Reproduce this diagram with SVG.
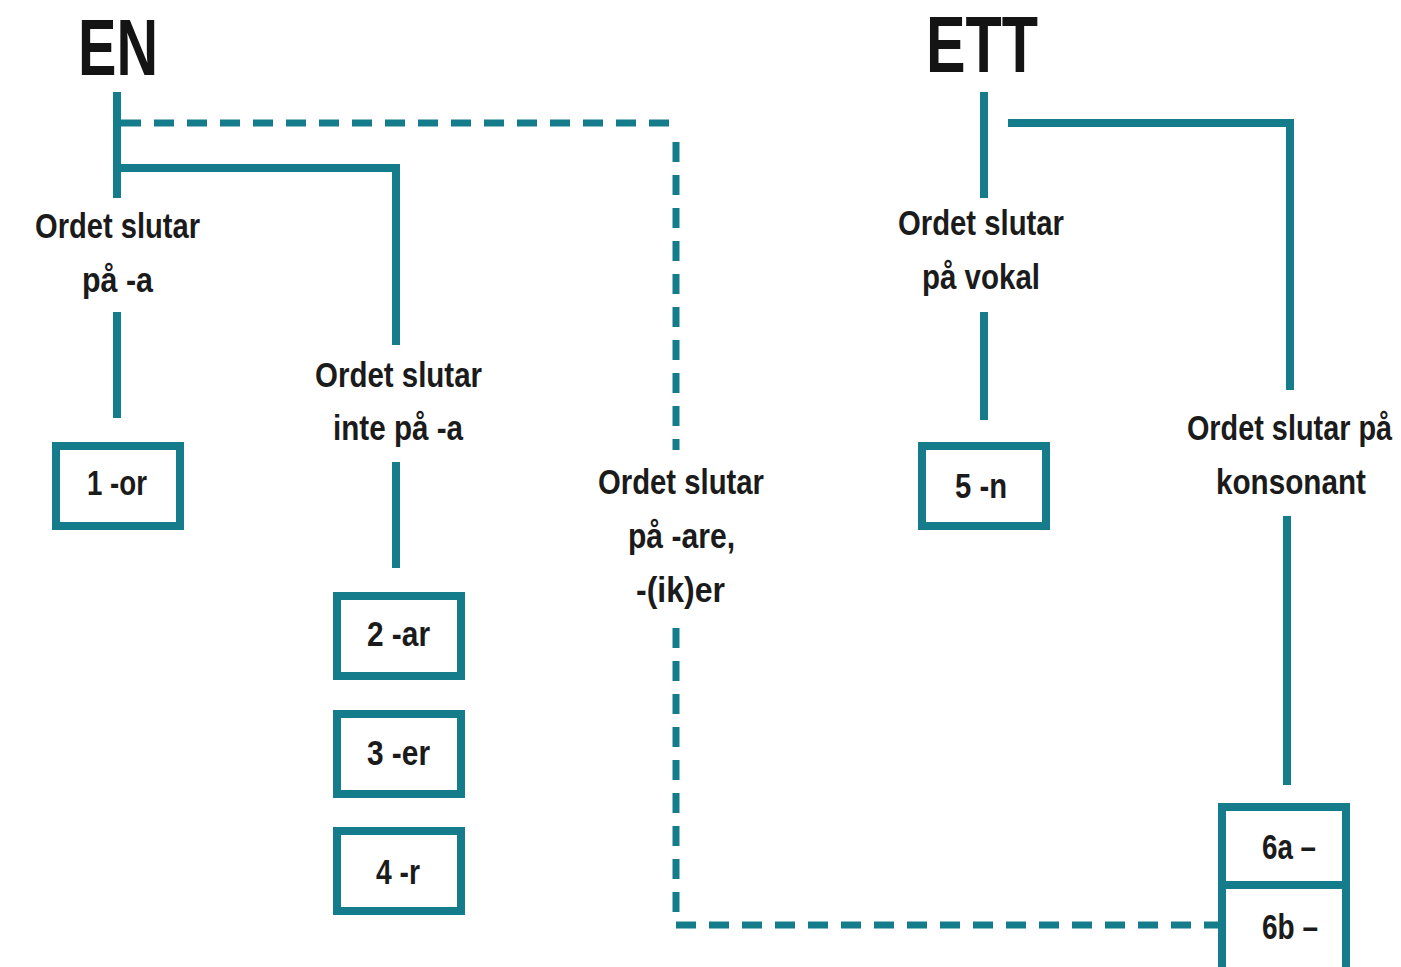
<svg xmlns="http://www.w3.org/2000/svg" width="1401" height="967" viewBox="0 0 1401 967">
<style>
.t{font-family:"Liberation Sans",Arial,sans-serif;font-weight:bold;font-size:35px;fill:#1b1b1b}
.h{font-family:"Liberation Sans",Arial,sans-serif;font-weight:bold;font-size:80px;fill:#141414}
.s{fill:none;stroke:#157c8c;stroke-width:8}
.d{fill:none;stroke:#157c8c;stroke-width:7;stroke-dasharray:20 13}
.b{fill:#fff;stroke:#157c8c;stroke-width:8}
</style>
<rect width="1401" height="967" fill="#fff"/>
<g id="connectors">
<path class="s" d="M117 92V198"/>
<path class="s" d="M117 168H396V345"/>
<path class="d" d="M121 123H680"/>
<path class="d" d="M676 142V450"/>
<path class="d" d="M676 628V925H1220"/>
<path class="s" d="M117 312V418"/>
<path class="s" d="M396 462V568"/>
<path class="s" d="M984 92V198"/>
<path class="s" d="M1008 123H1290V390"/>
<path class="s" d="M984 312V420"/>
<path class="s" d="M1287 516V785"/>
</g>
<g id="en"><text class="h" x="78" y="75" textLength="80" lengthAdjust="spacingAndGlyphs">EN</text></g>
<g id="ett"><text class="h" x="926" y="72" textLength="112" lengthAdjust="spacingAndGlyphs">ETT</text></g>
<g id="q1">
<text class="t" x="35" y="238" textLength="165" lengthAdjust="spacingAndGlyphs">Ordet slutar</text>
<text class="t" x="82" y="292" textLength="71" lengthAdjust="spacingAndGlyphs">på -a</text>
</g>
<g id="q2">
<text class="t" x="315" y="387" textLength="167" lengthAdjust="spacingAndGlyphs">Ordet slutar</text>
<text class="t" x="333" y="440" textLength="130" lengthAdjust="spacingAndGlyphs">inte på -a</text>
</g>
<g id="q3">
<text class="t" x="598" y="494" textLength="166" lengthAdjust="spacingAndGlyphs">Ordet slutar</text>
<text class="t" x="628" y="548" textLength="107" lengthAdjust="spacingAndGlyphs">på -are,</text>
<text class="t" x="636" y="602" textLength="89" lengthAdjust="spacingAndGlyphs">-(ik)er</text>
</g>
<g id="q4">
<text class="t" x="898" y="235" textLength="166" lengthAdjust="spacingAndGlyphs">Ordet slutar</text>
<text class="t" x="922" y="289" textLength="118" lengthAdjust="spacingAndGlyphs">på vokal</text>
</g>
<g id="q5">
<text class="t" transform="translate(1289.5 440) scale(0.78 1)" text-anchor="middle" x="0" y="0" textLength="263" lengthAdjust="spacingAndGlyphs">Ordet slutar på</text>
<text class="t" x="1216" y="494" textLength="150" lengthAdjust="spacingAndGlyphs">konsonant</text>
</g>
<g id="box1"><rect class="b" x="56" y="446" width="124" height="80"/><text class="t" x="87" y="495" textLength="60" lengthAdjust="spacingAndGlyphs">1 -or</text></g>
<g id="box2"><rect class="b" x="337" y="596" width="124" height="80"/><text class="t" x="367" y="646" textLength="63" lengthAdjust="spacingAndGlyphs">2 -ar</text></g>
<g id="box3"><rect class="b" x="337" y="714" width="124" height="80"/><text class="t" x="367" y="765" textLength="63" lengthAdjust="spacingAndGlyphs">3 -er</text></g>
<g id="box4"><rect class="b" x="337" y="831" width="124" height="80"/><text class="t" x="376" y="884" textLength="44" lengthAdjust="spacingAndGlyphs">4 -r</text></g>
<g id="box5"><rect class="b" x="922" y="446" width="124" height="80"/><text class="t" x="955" y="498" textLength="52" lengthAdjust="spacingAndGlyphs">5 -n</text></g>
<g id="box6">
<rect class="b" x="1222" y="807" width="124" height="170"/>
<path class="s" d="M1222 885H1346"/>
<text class="t" x="1262" y="859" textLength="54" lengthAdjust="spacingAndGlyphs">6a –</text>
<text class="t" x="1262" y="939" textLength="56" lengthAdjust="spacingAndGlyphs">6b –</text>
</g>
</svg>
